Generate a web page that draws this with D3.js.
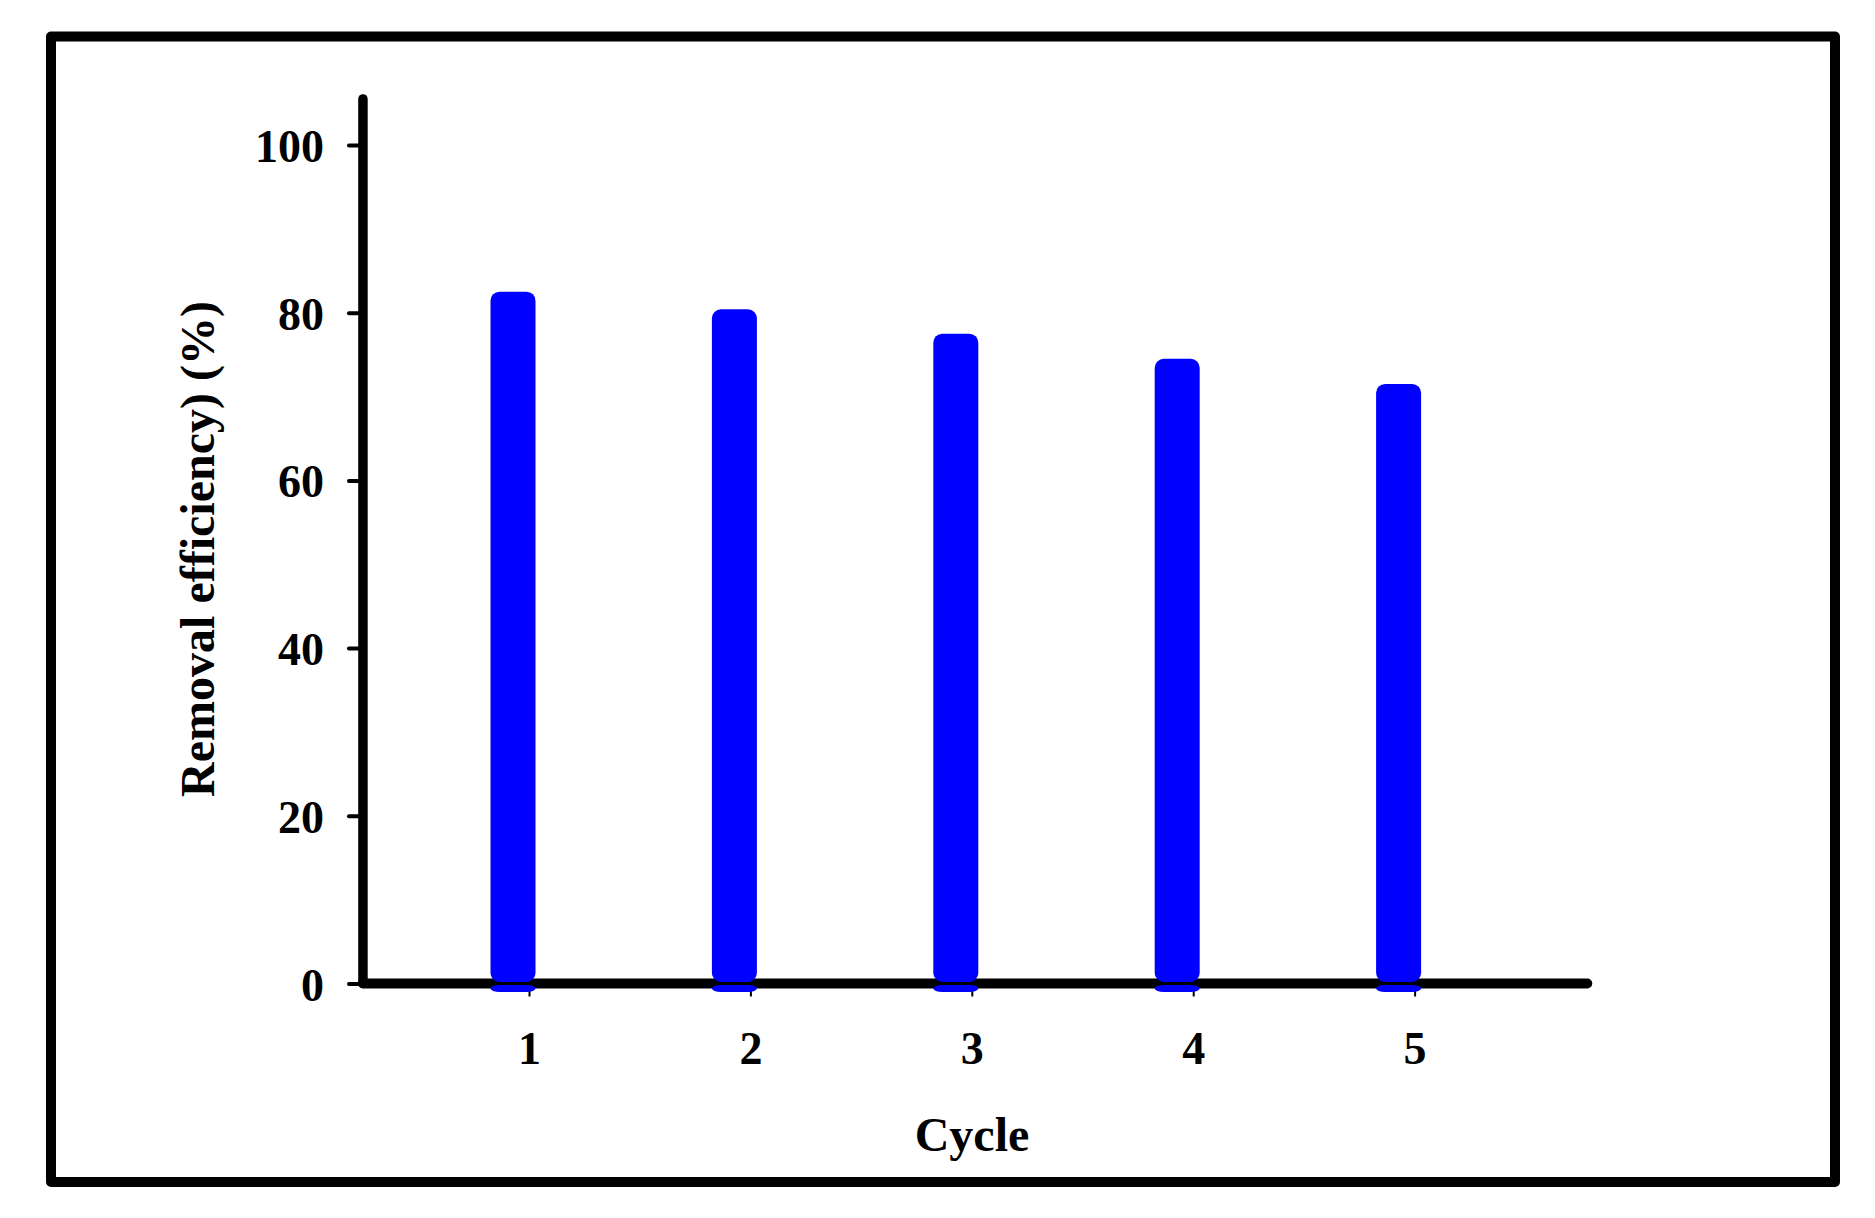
<!DOCTYPE html>
<html>
<head>
<meta charset="utf-8">
<script src="https://cdn.jsdelivr.net/npm/d3@7"></script>
<style>
  html, body { margin: 0; padding: 0; background: #fff; }
  svg { display: block; }
  text { font-family: "Liberation Serif", "Times New Roman", serif; font-weight: bold; fill: #000; }
</style>
</head>
<body>
<script>
/* removal efficiency per reuse cycle */
var cycles = [1, 2, 3, 4, 5];
var efficiency = [82.5, 80.4, 77.5, 74.5, 71.5];
var yTicks = [0, 20, 40, 60, 80, 100];

var width = 1875, height = 1218;

var svg = d3.select("body").append("svg")
  .attr("width", width)
  .attr("height", height);

// outer frame
svg.append("rect")
  .attr("x", 51).attr("y", 36.5)
  .attr("width", 1784).attr("height", 1145.5)
  .attr("fill", "none")
  .attr("stroke", "#000")
  .attr("stroke-width", 10)
  .attr("stroke-linejoin", "round");

var x = d3.scaleLinear().domain([1, 5]).range([529, 1414.6]);
var y = d3.scaleLinear().domain([0, 100]).range([983.5, 145]);

var xStart = 0.25, xEnd = 5.78, yTop = 105.5;
var barW = 45, barShift = -16;

function barLeft(d, i){ return x(cycles[i]) + barShift - barW / 2; }

// x axis (thin ticks + labels)
var gx = svg.append("g")
  .attr("transform", "translate(0," + y(0) + ")")
  .call(d3.axisBottom(x).tickValues(cycles).tickSize(13).tickFormat(d3.format("d")));
gx.select(".domain").remove();
gx.selectAll(".tick line").attr("stroke", "#000").attr("stroke-width", 2);
gx.selectAll(".tick text")
  .attr("y", 80.5).attr("dy", null)
  .style("font-size", "46px");

// main axis lines
svg.append("line")
  .attr("x1", x(xStart)).attr("x2", x(xStart))
  .attr("y1", y(yTop)).attr("y2", y(0))
  .attr("stroke", "#000").attr("stroke-width", 9.5)
  .attr("stroke-linecap", "round");
svg.append("line")
  .attr("x1", x(xStart)).attr("x2", x(xEnd))
  .attr("y1", y(0)).attr("y2", y(0))
  .attr("stroke", "#000").attr("stroke-width", 10)
  .attr("stroke-linecap", "round");

// bars sit over the axis, only a thin dark seam shows through
var bars = svg.append("g");
bars.selectAll("rect.over")
  .data(efficiency)
  .enter().append("rect")
  .attr("class", "over")
  .attr("x", barLeft)
  .attr("y", function(d){ return y(d); })
  .attr("width", barW)
  .attr("height", function(d){ return y(0) - y(d) - 1.5; })
  .attr("rx", 9).attr("ry", 9)
  .attr("fill", "#0000ff");
bars.selectAll("rect.under")
  .data(efficiency)
  .enter().append("rect")
  .attr("class", "under")
  .attr("x", barLeft)
  .attr("y", y(0) + 1.5)
  .attr("width", barW)
  .attr("height", 7)
  .attr("rx", 9).attr("ry", 4)
  .attr("fill", "#0000ff");

// y axis ticks + labels
var gy = svg.append("g")
  .attr("transform", "translate(" + x(xStart) + ",0)")
  .call(d3.axisLeft(y).tickValues(yTicks).tickSize(14).tickPadding(25));
gy.select(".domain").remove();
gy.selectAll(".tick line").attr("stroke", "#000").attr("stroke-width", 4).attr("stroke-linecap", "round");
gy.selectAll(".tick text")
  .attr("dy", "0.36em")
  .style("font-size", "46px");

// axis titles
svg.append("text")
  .attr("x", 972).attr("y", 1151)
  .attr("text-anchor", "middle")
  .style("font-size", "48px")
  .text("Cycle");

svg.append("text")
  .attr("transform", "translate(214,549) rotate(-90)")
  .attr("text-anchor", "middle")
  .style("font-size", "48px")
  .text("Removal efficiency) (%)");
</script>
</body>
</html>
